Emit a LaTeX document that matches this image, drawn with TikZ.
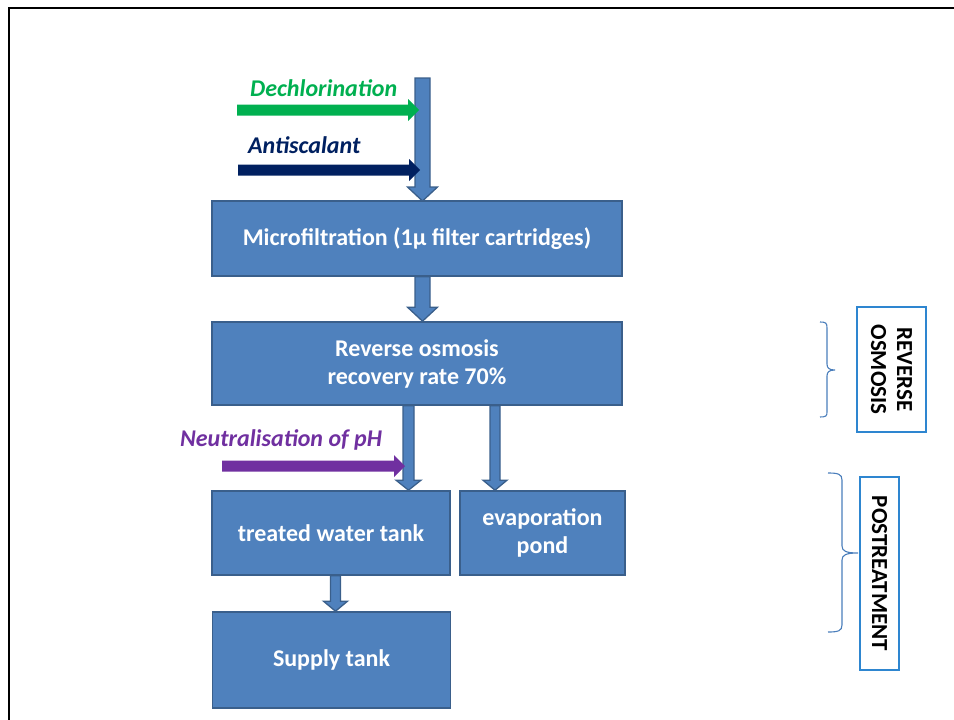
\documentclass[tikz,border=0pt]{standalone}
\usepackage{fontspec}
\setmainfont{Carlito}
\usetikzlibrary{calc}
\definecolor{boxfill}{HTML}{4F81BD}
\definecolor{boxline}{HTML}{3A5F8B}
\definecolor{sideline}{HTML}{2E86D0}
\definecolor{bracecol}{HTML}{4A7EBB}
\definecolor{dgreen}{HTML}{00B050}
\definecolor{dnavy}{HTML}{002060}
\definecolor{dpurple}{HTML}{7030A0}
\tikzset{
  procbox/.style={draw=boxline, line width=1.6pt, fill=boxfill, text=white,
    font=\fontsize{24}{28}\selectfont\bfseries, align=center, inner sep=0pt},
  sidebox/.style={draw=sideline, line width=1.3pt, fill=white, text=black,
    font=\fontsize{23}{26}\selectfont\bfseries, align=center, inner sep=0pt, rotate=-90},
  blockarr/.style={draw=boxline, line width=1.3pt, fill=boxfill, line join=miter},
  inlabel/.style={font=\fontsize{24}{28}\selectfont\bfseries\itshape, inner sep=0pt},
  bracestyle/.style={draw=bracecol, line width=1.1pt},
}
% vertical block arrow: #1 start, #2 end, #3 shaft half width, #4 head half width, #5 head length
\newcommand\vblock[5]{%
  \path[blockarr] let \p1=(#1), \p2=(#2) in
    (\x1-#3,\y1) -- (\x1+#3,\y1) -- (\x1+#3,\y2+#5) -- (\x1+#4,\y2+#5) --
    (\x1,\y2) -- (\x1-#4,\y2+#5) -- (\x1-#3,\y2+#5) -- cycle;}
% horizontal thick arrow: #1 start, #2 end, #3 colour
\newcommand\hthick[3]{%
  \path[fill=#3] let \p1=(#1), \p2=(#2) in
    (\x1,\y1+5.5pt) -- (\x2-11pt,\y1+5.5pt) -- (\x2-11pt,\y1+11pt) -- (\x2,\y1) --
    (\x2-11pt,\y1-11pt) -- (\x2-11pt,\y1-5.5pt) -- (\x1,\y1-5.5pt) -- cycle;}
\begin{document}
\begin{tikzpicture}[x=1pt,y=-1pt]
\clip (0,0) rectangle (954,720);
\useasboundingbox (0,0) rectangle (954,720);
% frame
\draw[line width=1.8pt, black] (9,8) rectangle (1000,800);

% process boxes
\node[procbox, minimum width=410pt, minimum height=75pt] (mf) at (417,238.5) {Microfiltration (1µ filter cartridges)};
\node[procbox, minimum width=410pt, minimum height=83pt] (ro) at (417,363.5) {Reverse osmosis\\recovery rate 70\%};
\node[procbox, minimum width=238pt, minimum height=84pt] (tw) at (331,533) {treated water tank};
\node[procbox, minimum width=165pt, minimum height=84pt] (ev) at (542.5,533) {evaporation\\pond};
\node[procbox, minimum width=238pt, minimum height=96pt] (st) at (331.5,660) {Supply tank};

% connector points
\coordinate (feed) at (422.5,78);
\coordinate (mfin) at (422.5,201);
\coordinate (mfout) at (mf.south -| feed);
\coordinate (roin) at (ro.north -| feed);
\coordinate (rotw) at (ro.south -| 408.5,0);
\coordinate (twin) at (tw.north -| 408.5,0);
\coordinate (roev) at (ro.south -| 495,0);
\coordinate (evin) at (ev.north -| 495,0);
\coordinate (twout) at (tw.south -| 335.5,0);
\coordinate (stin) at (st.north -| 335.5,0);

% block arrows
\vblock{feed}{mfin}{7.5pt}{15pt}{14pt}
\vblock{mfout}{roin}{7.5pt}{15pt}{14pt}
\vblock{rotw}{twin}{5.5pt}{12.5pt}{10pt}
\vblock{roev}{evin}{5pt}{12pt}{10pt}
\vblock{twout}{stin}{5pt}{12pt}{10pt}

% dosing arrows
\coordinate (dcs) at (237,110);
\coordinate (dce) at (419,110);
\coordinate (ans) at (238,170);
\coordinate (ane) at (420,170);
\coordinate (phs) at (222,466);
\coordinate (phe) at (405,466);
\hthick{dcs}{dce}{dgreen}
\hthick{ans}{ane}{dnavy}
\hthick{phs}{phe}{dpurple}
\node[inlabel, text=dgreen, anchor=west] (dcl) at (250,88) {Dechlorination};
\node[inlabel, text=dnavy, anchor=west] (anl) at (248,145) {Antiscalant};
\node[inlabel, text=dpurple, anchor=west] (phl) at (180,440) {Neutralisation of pH};

% side labels
\node[sidebox, minimum width=125pt, minimum height=69pt] (rol) at (891.5,369.5) {REVERSE\\OSMOSIS};
\node[sidebox, minimum width=193pt, minimum height=39pt] (ptl) at (879.5,573.5) {POSTREATMENT};

% braces
\draw[bracestyle] (820,322) .. controls (826,322) and (827,323) .. (827,328)
  -- (827,364) .. controls (827,368) and (829,370) .. (835,370)
  .. controls (829,370) and (827,372) .. (827,376)
  -- (827,412) .. controls (827,416) and (826,417) .. (820,417);
\draw[bracestyle] (828,473) .. controls (838,473) and (842,474) .. (842,480)
  -- (842,546) .. controls (842,551) and (846,553) .. (858,553)
  .. controls (846,553) and (842,555) .. (842,560)
  -- (842,625) .. controls (842,631) and (838,632) .. (828,632);
\end{tikzpicture}
\end{document}
